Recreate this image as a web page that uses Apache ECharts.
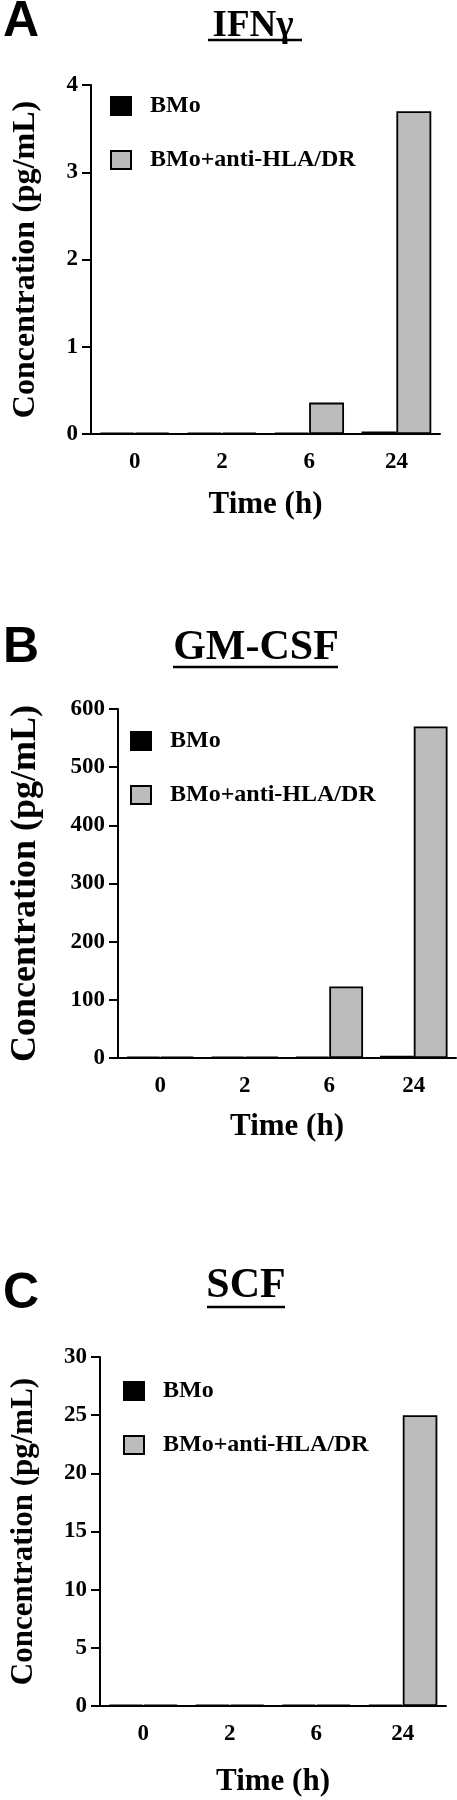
<!DOCTYPE html>
<html>
<head>
<meta charset="utf-8">
<script src="https://cdn.jsdelivr.net/npm/echarts@6/dist/echarts.min.js"></script>
<style>
  html, body { margin: 0; padding: 0; background: #fff; }
  #chart { width: 457px; height: 1800px; }
</style>
</head>
<body>
<div id="chart"></div>
<script>
// categories and series
const timePoints = ['0', '2', '6', '24'];
const seriesNames = ['BMo', 'BMo+anti-HLA/DR'];

// A: IFNγ
const ifngBMo = [0.015, 0.015, 0.015, 0.03];
const ifngAnti = [0.015, 0.015, 0.36, 3.70];
// B: GM-CSF
const gmcsfBMo = [2, 2, 2, 4];
const gmcsfAnti = [2, 2, 123, 570];
// C: SCF
const scfBMo = [0.1, 0.1, 0.12, 0.12];
const scfAnti = [0.1, 0.1, 0.12, 25];

const yMax = [4, 600, 30];
const yStep = [1, 100, 5];

const serif = '"Liberation Serif", "Times New Roman", serif';
const sans = '"Liberation Sans", Arial, sans-serif';
const grey = '#bcbcbc';

const chart = echarts.init(document.getElementById('chart'));

// panel layout (pixel)
const panels = [
    { left: 91, top: 85, width: 349, height: 349, nameSize: 32, yGap: 49, xGap: 55, legTop: 94, legLeft: 110 },
    { left: 106, top: 709, width: 350, height: 349, nameSize: 36, yGap: 74, xGap: 53, legTop: 729, legLeft: 130 },
    { left: 98, top: 1357, width: 348, height: 349, nameSize: 31, yGap: 61, xGap: 60, legTop: 1379, legLeft: 123 },
];
const dataSets = [
    [ifngBMo, ifngAnti],
    [gmcsfBMo, gmcsfAnti],
    [scfBMo, scfAnti],
];

const grid = [], xAxis = [], yAxis = [], series = [], legend = [];

panels.forEach(function (p, i) {
    grid.push({ left: p.left, top: p.top, width: p.width, height: p.height });
    xAxis.push({
        type: 'category',
        gridIndex: i,
        data: timePoints,
        name: 'Time (h)',
        nameLocation: 'middle',
        nameGap: p.xGap,
        nameTextStyle: { fontFamily: serif, fontWeight: 'bold', fontSize: 31, color: '#000' },
        axisLine: { lineStyle: { color: '#000', width: 2 } },
        axisTick: { alignWithLabel: true, length: 10, lineStyle: { color: '#000', width: 2 } },
        axisLabel: { fontFamily: serif, fontWeight: 'bold', fontSize: 23, color: '#000', margin: 17 },
        splitLine: { show: false },
    });
    yAxis.push({
        type: 'value',
        gridIndex: i,
        min: 0,
        max: yMax[i],
        interval: yStep[i],
        name: 'Concentration (pg/mL)',
        nameLocation: 'middle',
        nameRotate: 90,
        nameGap: p.yGap,
        nameTextStyle: { fontFamily: serif, fontWeight: 'bold', fontSize: p.nameSize, color: '#000' },
        axisLine: { show: true, lineStyle: { color: '#000', width: 2 } },
        axisTick: { show: true, length: 9, lineStyle: { color: '#000', width: 2 } },
        axisLabel: { fontFamily: serif, fontWeight: 'bold', fontSize: 23, color: '#000', margin: 13 },
        splitLine: { show: false },
    });
    legend.push({
        orient: 'vertical',
        left: p.legLeft,
        top: p.legTop,
        itemWidth: 20,
        itemHeight: 18,
        itemGap: 30,
        padding: 0,
        icon: 'rect',
        data: seriesNames,
        textStyle: { fontFamily: serif, fontWeight: 'bold', fontSize: 24, color: '#000', padding: [0, 0, 0, 14] },
    });
    series.push({
        name: seriesNames[0],
        type: 'bar',
        xAxisIndex: i,
        yAxisIndex: i,
        data: dataSets[i][0],
        barGap: '0%',
        barCategoryGap: '20%',
        itemStyle: { color: '#000', borderColor: '#000', borderWidth: 1.8 },
        animation: false,
    });
    series.push({
        name: seriesNames[1],
        type: 'bar',
        xAxisIndex: i,
        yAxisIndex: i,
        data: dataSets[i][1],
        barGap: '0%',
        barCategoryGap: '20%',
        itemStyle: { color: grey, borderColor: '#000', borderWidth: 1.8 },
        animation: false,
    });
});

// panel letters, underlined titles
const titles = [
    { letter: 'A', ly: 22, text: 'IFNγ', size: 37, x: 253, y: 26, ux1: 208, ux2: 302, uy: 40 },
    { letter: 'B', ly: 648, text: 'GM-CSF', size: 42, x: 256, y: 648, ux1: 173, ux2: 338, uy: 667 },
    { letter: 'C', ly: 1294, text: 'SCF', size: 42, x: 246, y: 1286, ux1: 207, ux2: 285, uy: 1307 },
];
const graphic = [];
titles.forEach(function (t) {
    graphic.push({
        type: 'text', x: 3, y: t.ly,
        style: { text: t.letter, font: 'bold 50px ' + sans, fill: '#000', textAlign: 'left', textVerticalAlign: 'middle' },
    });
    graphic.push({
        type: 'text', x: t.x, y: t.y,
        style: { text: t.text, font: 'bold ' + t.size + 'px ' + serif, fill: '#000', textAlign: 'center', textVerticalAlign: 'middle' },
    });
    graphic.push({
        type: 'line',
        shape: { x1: t.ux1, y1: t.uy, x2: t.ux2, y2: t.uy },
        style: { stroke: '#000', lineWidth: 2.5 },
    });
});

chart.setOption({
    backgroundColor: '#fff',
    animation: false,
    grid: grid,
    xAxis: xAxis,
    yAxis: yAxis,
    legend: legend,
    series: series,
    graphic: graphic,
});
</script>
</body>
</html>
